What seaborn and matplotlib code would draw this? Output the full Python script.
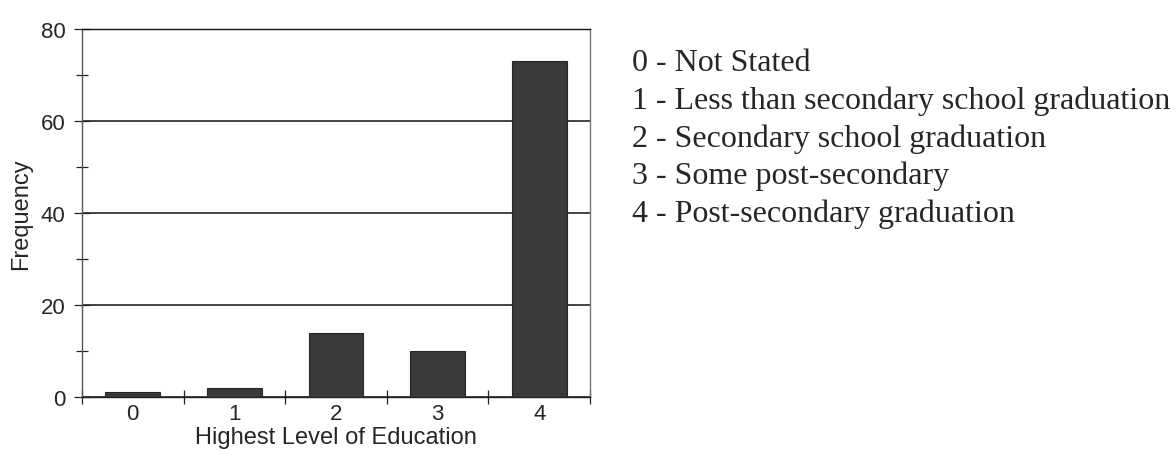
import numpy as np
import pandas as pd
import matplotlib
matplotlib.use("Agg")
import matplotlib.pyplot as plt
import seaborn as sns
from matplotlib.ticker import MultipleLocator, FixedLocator

# data
levels = ["0", "1", "2", "3", "4"]
frequency = [1, 2, 14, 10, 73]
legend_lines = [
    "0 - Not Stated",
    "1 - Less than secondary school graduation",
    "2 - Secondary school graduation",
    "3 - Some post-secondary",
    "4 - Post-secondary graduation",
]

sns.set_theme(style="white")
plt.rcParams["font.family"] = ["Liberation Sans", "DejaVu Sans"]

df = pd.DataFrame({"level": levels, "freq": frequency})

W, H = 1176, 452
fig = plt.figure(figsize=(W / 100, H / 100), dpi=100)
ax = fig.add_axes([82 / W, 1 - 398 / H, (590 - 82) / W, (398 - 30) / H])

sns.barplot(data=df, x="level", y="freq", color="#3a3a3a", width=0.54,
            saturation=1, ax=ax, zorder=3, edgecolor="#262626", linewidth=0.8)

ax.set_ylim(0, 80)
ax.set_xlim(-0.5, 4.5)
ax.yaxis.set_major_locator(MultipleLocator(20))
ax.yaxis.set_minor_locator(MultipleLocator(10))
ax.grid(axis="y", which="major", color="#111111", linewidth=1.1, zorder=0)
ax.set_axisbelow(True)

# x ticks sit between the categories, labels at the centres
ax.xaxis.set_major_locator(FixedLocator(np.arange(-0.5, 5.0, 1.0)))
ax.set_xticklabels([])
ax.xaxis.set_minor_locator(FixedLocator(np.arange(0, 5)))
ax.set_xticklabels(levels, minor=True)
ax.tick_params(axis="x", which="major", direction="inout", length=10, width=0.9,
               bottom=True, color="#222222")
ax.tick_params(axis="x", which="minor", length=0, labelsize=16, pad=4)
ax.tick_params(axis="y", which="both", direction="inout", left=True,
               color="#222222", width=0.9, labelsize=16)
ax.tick_params(axis="y", which="major", length=12, pad=6)
ax.tick_params(axis="y", which="minor", length=8)

for side in ["left", "right", "top", "bottom"]:
    ax.spines[side].set_visible(True)
    ax.spines[side].set_linewidth(1.0)
ax.spines["top"].set_color("#111111")
ax.spines["bottom"].set_color("#222222")
ax.spines["left"].set_color("#555555")
ax.spines["right"].set_color("#777777")

ax.set_xlabel("Highest Level of Education", fontsize=17, labelpad=2)
ax.set_ylabel("Frequency", fontsize=17, labelpad=6)

for i, line in enumerate(legend_lines):
    fig.text(632 / W, 1 - (71 + i * 37.8) / H, line, ha="left", va="baseline",
             fontsize=23, family=["Liberation Serif", "DejaVu Serif"])

fig.savefig("out.png", dpi=100)
